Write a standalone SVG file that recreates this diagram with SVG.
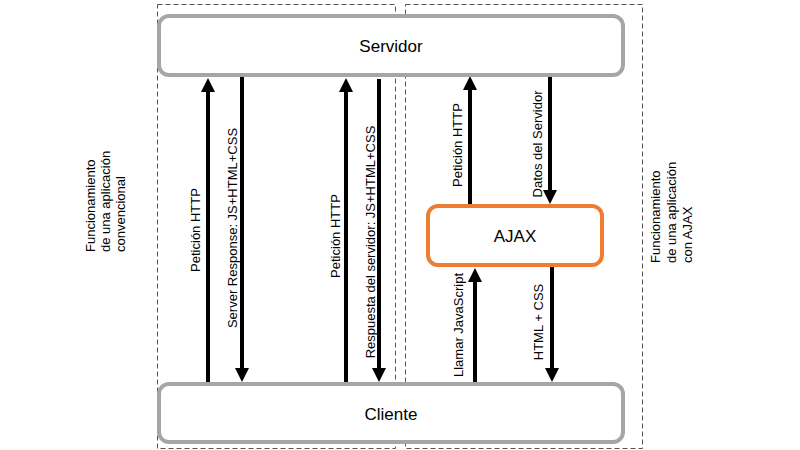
<svg xmlns="http://www.w3.org/2000/svg" width="800" height="450" viewBox="0 0 800 450">
<style>
text{font-family:"Liberation Sans",Arial,sans-serif;fill:#000}
.lbl{font-size:13px}
.big{font-size:17px}
.side{font-size:13px}
.zone{fill:none;stroke:#555;stroke-width:1;stroke-dasharray:5 3}
.box{fill:#fff;stroke:#a6a6a6;stroke-width:4}
.ajax{fill:#fff;stroke:#ed7d31;stroke-width:4}
.arr{stroke:#000;stroke-width:4;fill:none;marker-end:url(#ah)}
</style>
<defs>
<marker id="ah" viewBox="0 0 10 10" refX="5" refY="5" markerWidth="3.5" markerHeight="3.5" orient="auto">
<path d="M0,0 L10,5 L0,10 z" fill="#000"/>
</marker>
</defs>
<rect width="800" height="450" fill="#fff"/>
<g id="zones">
<rect class="zone" x="157.5" y="4.5" width="238" height="444"/>
<rect class="zone" x="405.5" y="4.5" width="237" height="444"/>
</g>
<g id="side-labels">
<text class="side" transform="translate(90,252) rotate(-90)" dy=".35em">Funcionamiento</text>
<text class="side" transform="translate(105,252) rotate(-90)" dy=".35em">de una aplicación</text>
<text class="side" transform="translate(120,252) rotate(-90)" dy=".35em">convencional</text>
<text class="side" transform="translate(655,263) rotate(-90)" dy=".35em">Funcionamiento</text>
<text class="side" transform="translate(671,263) rotate(-90)" dy=".35em">de una aplicación</text>
<text class="side" transform="translate(687,263) rotate(-90)" dy=".35em">con AJAX</text>
</g>
<g id="connectors">
<line class="arr" x1="208" y1="383" x2="208" y2="85"/>
<line class="arr" x1="242" y1="76" x2="242" y2="375"/>
<line class="arr" x1="346" y1="383" x2="346" y2="85"/>
<line class="arr" x1="379" y1="79" x2="379" y2="375"/>
<line class="arr" x1="470" y1="205" x2="470" y2="83"/>
<line class="arr" x1="550" y1="77" x2="550" y2="197"/>
<line class="arr" x1="475" y1="383" x2="475" y2="275"/>
<line class="arr" x1="552" y1="266" x2="552" y2="375"/>
<text class="lbl" text-anchor="middle" transform="translate(195,230) rotate(-90)" dy=".35em">Petición HTTP</text>
<text class="lbl" text-anchor="middle" transform="translate(232,228) rotate(-90)" dy=".35em">Server Response: JS+HTML+CSS</text>
<text class="lbl" text-anchor="middle" transform="translate(335,236) rotate(-90)" dy=".35em">Petición HTTP</text>
<text class="lbl" text-anchor="middle" transform="translate(370,242) rotate(-90)" dy=".35em">Respuesta del servidor: JS+HTML+CSS</text>
<text class="lbl" text-anchor="middle" transform="translate(457,145) rotate(-90)" dy=".35em">Petición HTTP</text>
<text class="lbl" text-anchor="middle" transform="translate(537,144) rotate(-90)" dy=".35em">Datos del Servidor</text>
<text class="lbl" text-anchor="middle" transform="translate(458,325) rotate(-90)" dy=".35em">Llamar JavaScript</text>
<text class="lbl" text-anchor="middle" transform="translate(538,322) rotate(-90)" dy=".35em">HTML + CSS</text>
</g>
<g id="servidor">
<rect class="box" x="159" y="16" width="464" height="59" rx="10"/>
<text class="big" x="391" y="51.5" text-anchor="middle">Servidor</text>
</g>
<g id="cliente">
<rect class="box" x="159" y="384" width="464" height="58" rx="10"/>
<text class="big" x="391" y="419.5" text-anchor="middle">Cliente</text>
</g>
<g id="ajax">
<rect class="ajax" x="428" y="206" width="174" height="59" rx="10"/>
<text class="big" x="515" y="241.5" text-anchor="middle">AJAX</text>
</g>
</svg>
